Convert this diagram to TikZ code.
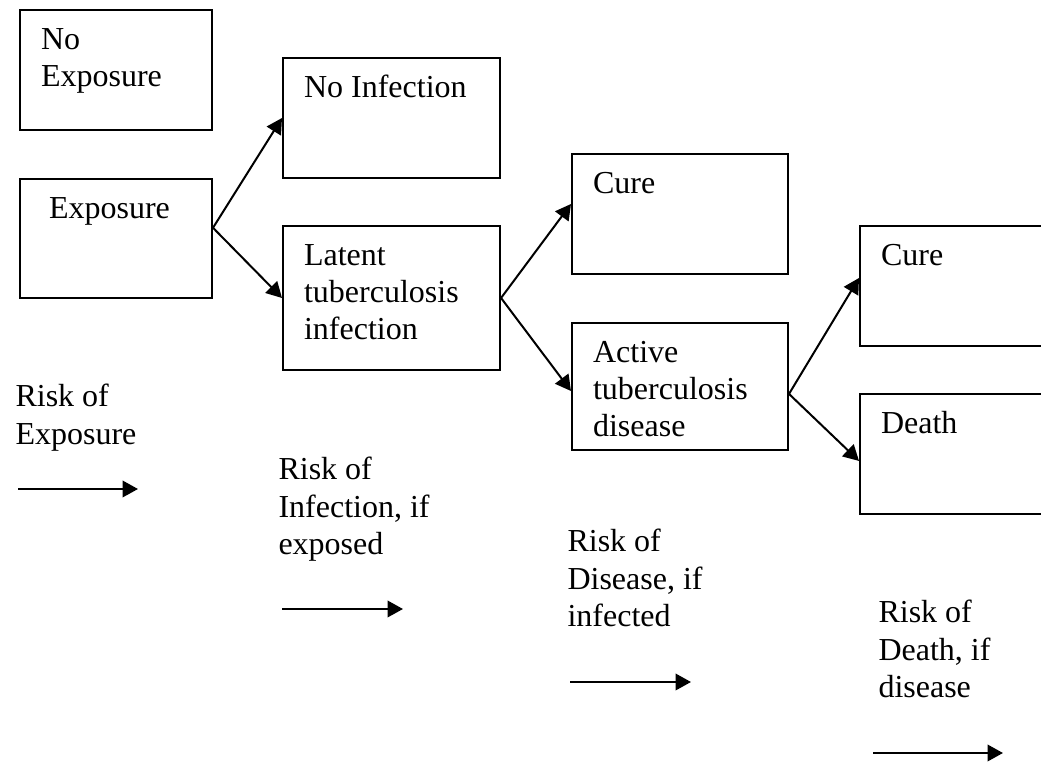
\documentclass[tikz,border=0pt]{standalone}
\usepackage{fontspec}
\setmainfont{Liberation Serif}
\usepackage{tikz}
\usetikzlibrary{arrows.meta}

% text of a stage box, set from the top left corner
\newcommand{\stagetext}[3]{\parbox[t][\dimexpr#2-10pt\relax][t]{\dimexpr#1-15.8pt\relax}{\strut#3}}
% text of a risk, baseline of its first line at the node
\newcommand{\risktext}[1]{\parbox[t]{70pt}{#1}}

\begin{document}
\begin{tikzpicture}[x=0.375pt, y=-0.375pt,
    stage/.style={draw, line width=0.75pt, anchor=north west, inner xsep=7.9pt, inner ysep=5pt,
        font=\fontsize{12}{13.9}\selectfont},
    risk/.style={anchor=base west, inner sep=0pt, font=\fontsize{12}{13.9}\selectfont},
    flow/.style={line width=0.75pt, -{Triangle[length=5.8pt, width=6.2pt]}}]
    \useasboundingbox (0,0) rectangle (1041,762);
    \clip (0,0) rectangle (1041,762);

    % stages
    \node[stage] (noexp) at (19,9) {\stagetext{72pt}{45pt}{No\\Exposure}};
    \node[stage] (exp) at (19,178) {\stagetext{72pt}{44.6pt}{\ Exposure}};
    \node[stage] (noinf) at (282,57) {\stagetext{81.4pt}{45pt}{No Infection}};
    \node[stage] (latent) at (282,225) {\stagetext{81.4pt}{54pt}{Latent\\tuberculosis\\infection}};
    \node[stage] (cure1) at (571,153) {\stagetext{81pt}{45pt}{Cure}};
    \node[stage] (active) at (571,322) {\stagetext{81pt}{47.6pt}{Active\\tuberculosis\\disease}};
    \node[stage] (cure2) at (859,225) {\stagetext{81.4pt}{45pt}{Cure}};
    \node[stage] (death) at (859,393) {\stagetext{81.4pt}{45pt}{Death}};

    % branches
    \draw[flow] ([yshift=4pt]exp.east) -- (noinf.west);
    \draw[flow] ([yshift=4pt]exp.east) -- (latent.west);
    \draw[flow] (latent.east) -- ([yshift=3.75pt]cure1.west);
    \draw[flow] (latent.east) -- ([yshift=-1.7pt]active.west);
    \draw[flow] ([yshift=-2.8pt]active.east) -- ([yshift=3pt]cure2.west);
    \draw[flow] ([yshift=-2.8pt]active.east) -- ([yshift=-2.6pt]death.west);

    % risks along the bottom
    \node[risk] (rexp) at (15,407) {\risktext{Risk of\\Exposure}};
    \node[risk] (rinf) at (278,480) {\risktext{Risk of\\Infection, if\\exposed}};
    \node[risk] (rdis) at (567,552) {\risktext{Risk of\\Disease, if\\infected}};
    \node[risk] (rdeath) at (878,623) {\risktext{Risk of\\Death, if\\disease}};
    \foreach \i/\x/\y/\l in {1/18/489/120,2/282/609/121,3/570/682/121,4/873/753/130} {
        \coordinate (r\i a) at (\x,\y);
        \coordinate (r\i b) at (\x+\l,\y);
        \draw[flow] (r\i a) -- (r\i b);
      }
  \end{tikzpicture}
\end{document}
